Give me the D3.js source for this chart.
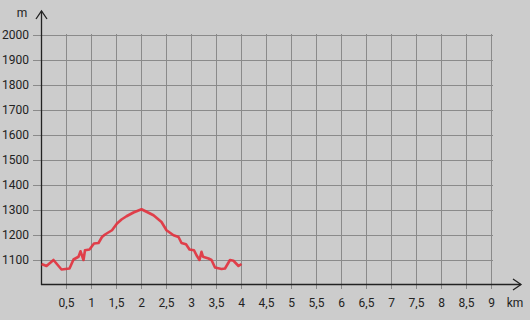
<!DOCTYPE html>
<html>
<head>
<meta charset="utf-8">
<script src="https://cdn.jsdelivr.net/npm/d3@7"></script>
<style>
  body { margin: 0; background: #cccccc; }
  svg { display: block; font-family: Roboto, "Noto Sans", sans-serif; }
</style>
</head>
<body>
<script>
// elevation profile: distance (km) and altitude (m)
var distKm = [0.01, 0.11, 0.25, 0.41, 0.57, 0.65, 0.75, 0.79, 0.85, 0.88, 0.97, 1.06, 1.15, 1.22, 1.28, 1.42, 1.52, 1.61, 1.71, 1.85, 2.01,
  2.25, 2.41, 2.51, 2.65, 2.75, 2.81, 2.9, 2.97, 3.06, 3.11, 3.17, 3.21, 3.24, 3.35, 3.41, 3.48, 3.61, 3.68, 3.78, 3.85, 3.95, 4.01];
var elev = [1084, 1076, 1100, 1062, 1066, 1102, 1113, 1135, 1100, 1139, 1142, 1166, 1168, 1192, 1202, 1219, 1246, 1262, 1275, 1290, 1303,
  1279, 1252, 1219, 1199, 1192, 1168, 1163, 1142, 1139, 1119, 1100, 1133, 1113, 1106, 1100, 1070, 1064, 1066, 1100, 1097, 1076, 1084];
var xTicks = [0.5, 1, 1.5, 2, 2.5, 3, 3.5, 4, 4.5, 5, 5.5, 6, 6.5, 7, 7.5, 8, 8.5, 9];
var yTicks = [1100, 1200, 1300, 1400, 1500, 1600, 1700, 1800, 1900, 2000];

const W = 530, H = 320;

var x = d3.scaleLinear().domain([0, 9]).range([41, 491]);
var y = d3.scaleLinear().domain([1000, 2000]).range([285, 35]);

var svg = d3.select("body").append("svg")
  .attr("width", W).attr("height", H);

svg.append("rect").attr("width", W).attr("height", H).attr("fill", "#cccccc");

// grid
svg.selectAll("line.vg").data(xTicks).enter().append("line")
  .attr("class", "vg")
  .attr("x1", d => Math.round(x(d)) + 0.5).attr("x2", d => Math.round(x(d)) + 0.5)
  .attr("y1", y(2000) - 1).attr("y2", y(1000) + 4)
  .attr("stroke", "#8a8a8a").attr("stroke-width", 1);

svg.selectAll("line.hg").data(yTicks).enter().append("line")
  .attr("class", "hg")
  .attr("x1", 33).attr("x2", x(9) + 2)
  .attr("y1", d => Math.round(y(d)) + 0.5).attr("y2", d => Math.round(y(d)) + 0.5)
  .attr("stroke", "#8a8a8a").attr("stroke-width", 1);

// tick labels
svg.selectAll("text.yl").data(yTicks).enter().append("text")
  .attr("class", "yl")
  .attr("x", 29).attr("y", d => y(d))
  .attr("dy", "0.35em")
  .attr("text-anchor", "end")
  .attr("font-size", 12).attr("fill", "#222")
  .text(d => d);

svg.selectAll("text.xl").data(xTicks).enter().append("text")
  .attr("class", "xl")
  .attr("x", d => x(d) + 0.5).attr("y", 303)
  .attr("dy", "0.35em")
  .attr("text-anchor", "middle")
  .attr("font-size", 12).attr("fill", "#222")
  .text(d => String(d).replace(".", ","));

// axes with arrows
var ax = svg.append("g").attr("stroke", "#222").attr("stroke-width", 1.3).attr("fill", "none");
ax.append("line").attr("x1", 41.5).attr("x2", 41.5).attr("y1", 285).attr("y2", 11);
ax.append("path").attr("d", "M36,19 L41.5,11 L47,19");
ax.append("line").attr("x1", 41).attr("x2", 521).attr("y1", 284.5).attr("y2", 284.5);
ax.append("path").attr("d", "M513,279 L521,284.5 L513,290");

svg.append("text").attr("x", 22).attr("y", 17).attr("text-anchor", "middle")
  .attr("font-size", 12).attr("fill", "#222").text("m");
svg.append("text").attr("x", 515).attr("y", 303).attr("dy", "0.35em").attr("text-anchor", "middle")
  .attr("font-size", 12).attr("fill", "#222").text("km");

// profile line
var line = d3.line().x((d, i) => x(distKm[i])).y(d => y(d));
svg.append("path").datum(elev)
  .attr("d", line)
  .attr("fill", "none")
  .attr("stroke", "#e2303c")
  .attr("stroke-width", 2.6)
  .attr("stroke-linejoin", "round")
  .attr("stroke-opacity", 0.9);
</script>
</body>
</html>
